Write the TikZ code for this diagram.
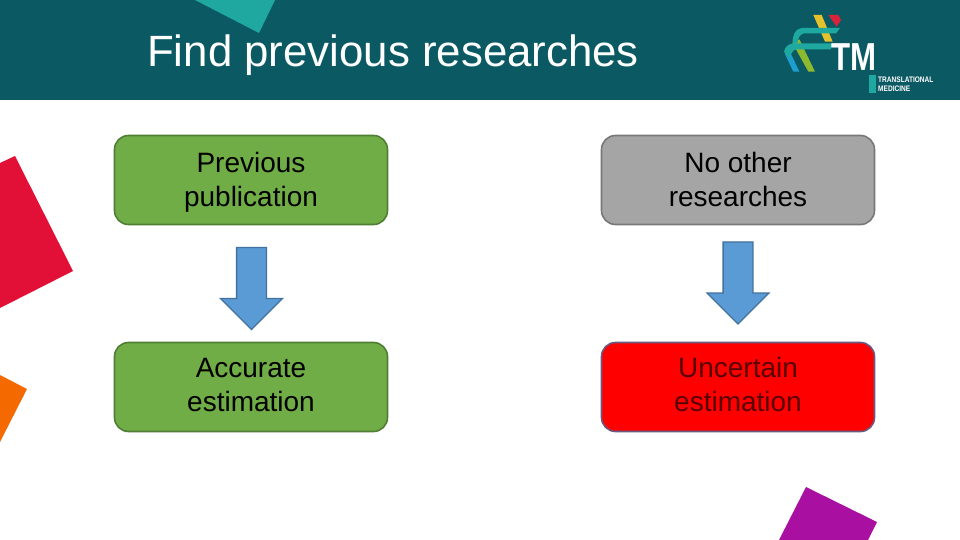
\documentclass[tikz,border=0pt]{standalone}
\usepackage{fontspec}
\setmainfont{Liberation Sans}
\usetikzlibrary{shapes.arrows}
\definecolor{headteal}{HTML}{0B5A63}
\definecolor{ribbonteal}{HTML}{1FA8A0}
\definecolor{cornerred}{HTML}{E20F36}
\definecolor{cornerorange}{HTML}{F56A00}
\definecolor{cornerpurple}{HTML}{A90FA0}
\definecolor{logoyellow}{HTML}{E3C22B}
\definecolor{logored}{HTML}{D9233A}
\definecolor{logogreen}{HTML}{8DB92E}
\definecolor{logoblue}{HTML}{1C9FD0}
\definecolor{boxgreen}{HTML}{70AD47}
\definecolor{boxgreenline}{HTML}{507E32}
\definecolor{boxgray}{HTML}{A5A5A5}
\definecolor{boxgrayline}{HTML}{787878}
\definecolor{boxredline}{HTML}{6A5A80}
\definecolor{arrowblue}{HTML}{5B9BD5}
\definecolor{arrowline}{HTML}{41719C}
\newcommand{\upperlines}[2]{\rule{0pt}{28.8pt}#1\\#2\strut}
\newcommand{\lowerlines}[2]{\rule{0pt}{25.8pt}#1\\#2\strut}
\tikzset{
  box/.style={rectangle, rounded corners=14pt, minimum width=273pt, minimum height=89pt, text centered, align=center, line width=1.6pt, font=\fontsize{28}{34}\selectfont},
  downarrow/.style={single arrow, shape border rotate=270, minimum height=82pt, inner sep=0pt, text width=28.5pt, single arrow head extend=16pt, single arrow tip angle=90, fill=arrowblue, draw=arrowline, line width=1.3pt},
}
\begin{document}
\begin{tikzpicture}[x=1pt, y=-1pt, node distance=207pt]
\useasboundingbox (0,0) rectangle (960,540);

% Header and corner pieces
\fill[headteal] (0,0) rectangle (960,100);
\fill[ribbonteal] (195,0) -- (259,33) -- (275,0) -- cycle;
\fill[cornerred] (0,163) -- (15,156) -- (73,271) -- (0,308) -- cycle;
\fill[cornerorange] (0,375) -- (27,389) -- (0,442) -- cycle;
\fill[cornerpurple] (806,487) -- (877,522) -- (868,540) -- (779,540) -- cycle;

\node (title) [anchor=west, text=white, inner sep=0pt, font=\fontsize{43.8}{50}\selectfont] at (147,55) {Find previous researches};

% Logo
\begin{scope}[shift={(760,0)}, scale=1/3]
\fill[logoyellow] (160,45) -- (185,45) -- (218,125) -- (195,125) -- cycle;
\fill[logored] (205,45) -- (235,45) -- (243,60) -- (230,80) -- cycle;
\fill[logogreen] (98,130) -- (118,118) -- (165,215) -- (145,215) -- cycle;
\fill[ribbonteal] (240,84) -- (125,84) .. controls (105,88) and (100,100) .. (97,130) -- (112,130) .. controls (115,112) and (120,102) .. (132,100) -- (228,100) -- cycle;
\fill[logoblue] (74,160) -- (92,160) -- (118,215) -- (100,215) -- cycle;
\fill[ribbonteal] (220,130) -- (100,130) .. controls (85,132) and (75,140) .. (72,155) -- (90,178) .. controls (92,160) and (97,150) .. (110,148) -- (212,148) -- cycle;
\fill[ribbonteal] (328,226) rectangle (347,278);
\end{scope}
\node (tm) [anchor=west, text=white, inner sep=0pt, xscale=0.8, font=\fontsize{39}{39}\bfseries\selectfont] at (831,57) {TM};
\node (brandtop) [anchor=west, text=white, inner sep=0pt, xscale=0.82, font=\fontsize{8}{8}\bfseries\selectfont] at (878,80) {TRANSLATIONAL};
\node (brandbottom) [anchor=west, text=white, inner sep=0pt, xscale=0.82, font=\fontsize{8}{8}\bfseries\selectfont] at (878,89) {MEDICINE};

% Boxes
\node (previous) [box, fill=boxgreen, draw=boxgreenline] at (251,180) {\upperlines{Previous}{publication}};
\node (accurate) [box, fill=boxgreen, draw=boxgreenline, below of=previous] {\lowerlines{Accurate}{estimation}};
\node (noother) [box, fill=boxgray, draw=boxgrayline, right of=previous, xshift=280pt] {\upperlines{No other}{researches}};
\node (uncertain) [box, fill=red, draw=boxredline, text=red!35!black, below of=noother] {\lowerlines{Uncertain}{estimation}};

% Arrows
\node (leftarrow) [downarrow, below of=previous, node distance=101pt, xshift=0.5pt] {};
\node (rightarrow) [downarrow, below of=noother, node distance=95.5pt] {};

\end{tikzpicture}
\end{document}
